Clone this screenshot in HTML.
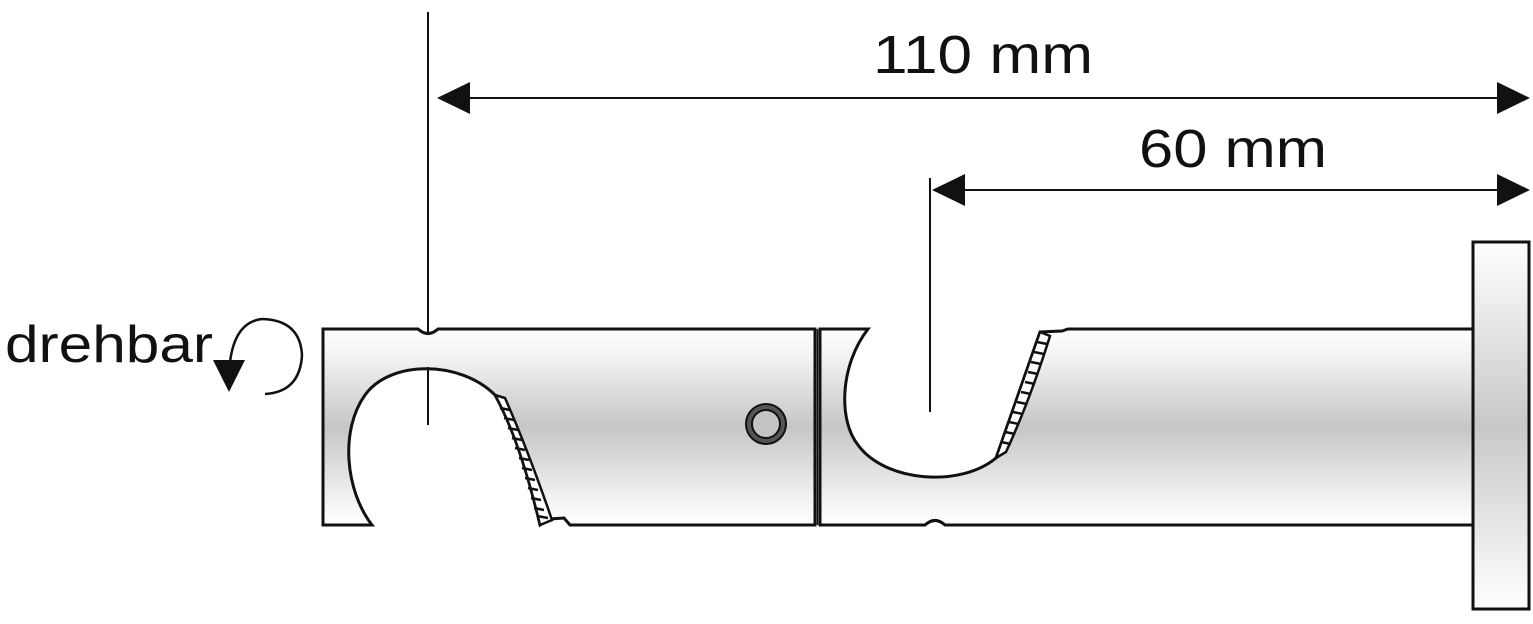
<!DOCTYPE html>
<html><head><style>body{margin:0;background:#fff}svg{display:block}</style></head><body>
<svg width="1533" height="624" viewBox="0 0 1533 624" xmlns="http://www.w3.org/2000/svg" font-family="Liberation Sans, sans-serif">
<defs>
<linearGradient id="g" x1="0" y1="0" x2="0" y2="1">
<stop offset="0" stop-color="#ffffff"/><stop offset="0.15" stop-color="#f2f2f2"/><stop offset="0.5" stop-color="#c6c6c6"/><stop offset="0.85" stop-color="#f0f0f0"/><stop offset="1" stop-color="#ffffff"/>
</linearGradient>
<linearGradient id="g2" x1="0" y1="0" x2="0" y2="1">
<stop offset="0" stop-color="#ffffff"/><stop offset="0.5" stop-color="#c8c8c8"/><stop offset="1" stop-color="#ffffff"/>
</linearGradient>
</defs>
<g stroke="#111" stroke-width="3" fill="url(#g)">
<path d="M323,329 L418,329 Q428,338 438,329 L815,329 L815,525 L570,525 L564,518 L550,519 L540,525 Q520,440 495,395 C460,360 390,360 365,395 C340,430 345,490 372,525 L323,525 Z"/>
<path d="M820,329 L868,329 C840,365 838,420 858,445 C885,482 960,488 996,458 L1040,332 L1062,331 L1068,329 L1473,329 L1473,525 L945,525 Q935,516 925,525 L820,525 Z"/>
<rect x="1473" y="242" width="56" height="367" fill="url(#g2)"/>
</g>
<line x1="817.5" y1="329" x2="817.5" y2="525" stroke="#111" stroke-width="1.5"/>
<g stroke="#111" stroke-width="2.5" fill="#fff">
<path d="M495,395 L505,398 Q528,450 552,520 L540,525 Q520,440 495,395 Z"/>
<path d="M996,458 L1006,452 Q1030,400 1050,336 L1040,332 Z"/>
</g>
<g stroke="#111" stroke-width="2.5">
<path d="M500,408 L510,410 M504,418 L514,420 M508,428 L518,430 M512,438 L522,440 M515,448 L525,450 M519,458 L529,460 M522,468 L532,470 M525,478 L535,480 M528,488 L538,490 M531,498 L541,500 M534,508 L544,510 M537,516 L548,518"/>
<path d="M1047,344 L1037,342 M1044,354 L1034,352 M1041,364 L1031,362 M1038,374 L1028,372 M1035,384 L1025,382 M1031,394 L1021,392 M1027,404 L1017,402 M1023,414 L1013,412 M1019,424 L1009,422 M1015,434 L1005,432 M1011,444 L1001,442"/>
</g>
<circle cx="766" cy="424" r="20" fill="#555" stroke="#111" stroke-width="2"/>
<circle cx="766" cy="424" r="14" fill="#c4c4c4" stroke="#111" stroke-width="2"/>
<g stroke="#111" stroke-width="2">
<line x1="428" y1="12" x2="428" y2="335"/>
<line x1="428" y1="367" x2="428" y2="425"/>
<line x1="930" y1="178" x2="930" y2="412"/>
<line x1="460" y1="98" x2="1505" y2="98"/>
<line x1="960" y1="190" x2="1505" y2="190"/>
</g>
<g fill="#111">
<polygon points="437,98 470,82 470,114"/>
<polygon points="1530,98 1497,82 1497,114"/>
<polygon points="932,190 965,174 965,206"/>
<polygon points="1530,190 1497,174 1497,206"/>
</g>
<text x="983" y="73" font-size="54" text-anchor="middle" textLength="220" lengthAdjust="spacingAndGlyphs" fill="#111">110 mm</text>
<text x="1233" y="167" font-size="54" text-anchor="middle" textLength="188" lengthAdjust="spacingAndGlyphs" fill="#111">60 mm</text>
<text x="5" y="362" font-size="52" textLength="208" lengthAdjust="spacingAndGlyphs" fill="#111">drehbar</text>
<path d="M265,394 Q300,392 302,355 Q300,320 262,319 Q235,322 230,362" fill="none" stroke="#111" stroke-width="2.5"/>
<polygon points="213,360 245,360 229,392" fill="#111"/>
</svg>
</body></html>
